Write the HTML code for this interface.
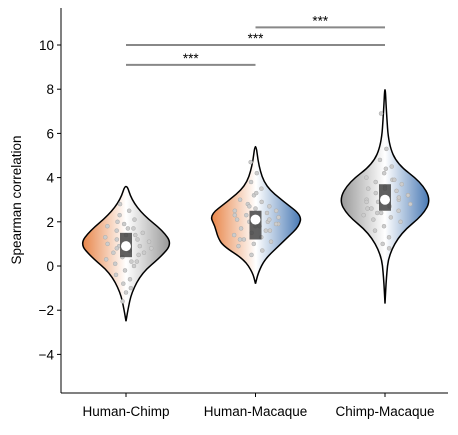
<!DOCTYPE html>
<html><head><meta charset="utf-8"><style>
body{margin:0;background:#fff}
text{font-family:"Liberation Sans",sans-serif;font-size:13.5px;fill:#000}
</style></head><body>
<svg id="c" width="458" height="430">
<defs>
<linearGradient id="g0" x1="0" x2="1"><stop offset="0" stop-color="#e8864a"/><stop offset="0.5" stop-color="#fff"/><stop offset="1" stop-color="#999"/></linearGradient>
<linearGradient id="g1" x1="0" x2="1"><stop offset="0" stop-color="#e8864a"/><stop offset="0.5" stop-color="#fff"/><stop offset="1" stop-color="#4a7ab5"/></linearGradient>
<linearGradient id="g2" x1="0" x2="1"><stop offset="0" stop-color="#999"/><stop offset="0.5" stop-color="#fff"/><stop offset="1" stop-color="#4a7ab5"/></linearGradient>
</defs>
<g id="plot"></g>
</svg>
<script>
const categories=["Human-Chimp","Human-Macaque","Chimp-Macaque"];
const yTicks=[-4,-2,0,2,4,6,8,10];
const violinHC=[[-2.5,0,0],[-2.0,0.04,0.04],[-1.2,0.12,0.12],[-0.3,0.35,0.35],[0.4,0.75,0.75],[1.0,1.0,1.0],[1.6,0.78,0.8],[2.3,0.38,0.38],[3.0,0.12,0.12],[3.8,0,0]];
const violinHM=[[-0.8,0,0],[-0.3,0.06,0.06],[0.3,0.25,0.2],[0.9,0.7,0.5],[1.3,0.82,0.7],[1.8,0.88,0.95],[2.3,1.0,1.0],[2.9,0.62,0.62],[3.6,0.22,0.22],[4.5,0.07,0.07],[5.7,0,0]];
const violinCM=[[-1.7,0,0],[-0.5,0.03,0.03],[0.5,0.08,0.08],[1.5,0.35,0.35],[2.3,0.82,0.82],[3.0,1.0,1.0],[3.8,0.78,0.78],[4.6,0.27,0.27],[5.5,0.08,0.08],[7.0,0.03,0.03],[8.3,0,0]];
const violins=[violinHC,violinHM,violinCM];
const boxes=[[0.4,0.9,1.5],[1.2,2.1,2.5],[2.5,3.0,3.7]];
const ptsHC=[2.8,2.5,2.3,2.1,1.9,1.8,1.7,1.6,1.5,1.4,1.3,1.2,1.2,1.1,1.0,1.0,0.9,0.9,0.8,0.7,0.6,0.5,0.4,0.3,0.2,0.1,0,-0.2,-0.4,-0.6,-0.8,-1.0,-1.2,-1.6,1.4,0.8,0.6,1.7,2.0,0.2];
const ptsHM=[4.7,4.2,3.8,3.5,3.2,3.0,2.9,2.8,2.7,2.6,2.5,2.4,2.3,2.2,2.2,2.1,2.0,2.0,1.9,1.8,1.7,1.6,1.5,1.4,1.3,1.2,1.1,1.0,0.9,0.7,0.5,2.5,1.8,2.3,1.6,2.7,1.9,3.3,1.2,2.1];
const ptsCM=[6.9,5.3,4.8,4.5,4.2,4.0,3.9,3.8,3.7,3.6,3.5,3.4,3.3,3.2,3.1,3.0,3.0,2.9,2.8,2.7,2.6,2.5,2.4,2.3,2.2,2.1,2.0,1.8,1.6,1.3,1.0,0.8,3.5,2.6,3.9,2.4,3.2,4.4,2.9,3.1];
const points=[ptsHC,ptsHM,ptsCM];
const sigBars=[[0,1,9.1],[0,2,10],[1,2,10.8]];
const sigLabels=["***","***","***"];

const X0=61,X1=448,YT=8,YB=393;
const y=v=>266-v*22.1;
const xc=i=>126+i*129.5;
const HW=46;
const g=document.getElementById('plot');
const NS='http://www.w3.org/2000/svg';
function el(t,a){const e=document.createElementNS(NS,t);for(const k in a)e.setAttribute(k,a[k]);g.appendChild(e);return e;}
let e;
e=el('line',{x1:X0,y1:YT,x2:X0,y2:YB,stroke:'#000','stroke-width':1});


e=el('line',{x1:X0,y1:YB,x2:X1,y2:YB,stroke:'#000','stroke-width':1});


yTicks.forEach(v=>{
 e=el('line',{x1:X0-4,y1:y(v),x2:X0,y2:y(v),stroke:'#000'});
 
 
 e=el('text',{x:X0-7,y:y(v)+5,'text-anchor':'end'});e.textContent=(v<0?'\u2212'+(-v):v);
 
 
});
e=el('text',{x:0,y:0,transform:'translate(21,200) rotate(-90)','text-anchor':'middle'});e.textContent='Spearman correlation';


categories.forEach((c,i)=>{
 e=el('line',{x1:xc(i),y1:YB,x2:xc(i),y2:YB+4,stroke:'#000'});
 
 
 e=el('text',{x:xc(i),y:YB+23,'text-anchor':'middle'});e.textContent=c;
 
 
});
function smooth(pts){let d='M'+pts[0][0]+','+pts[0][1];for(let k=1;k<pts.length;k++){const p0=pts[k-1],p1=pts[k];const my=(p0[1]+p1[1])/2;d+=' Q'+p0[0]+','+p0[1]+' '+(p0[0]+p1[0])/2+','+my;}d+=' L'+pts[pts.length-1][0]+','+pts[pts.length-1][1];return d;}
violins.forEach((prof,i)=>{
 const cx=xc(i);
 const right=prof.map(p=>[cx+p[2]*HW,y(p[0])]);
 const left=prof.slice().reverse().map(p=>[cx-p[1]*HW,y(p[0])]);
 const pts=right.concat(left.slice(1));
 e=el('path',{d:smooth(pts)+'Z',fill:'url(#g'+i+')',stroke:'#000','stroke-width':1.5});
 
 
 points[i].forEach((v,k)=>{
  const off=((k*37)%23-11)/11*HW*0.55*(prof.reduce((m,p)=>Math.abs(p[0]-v)<Math.abs(m[0]-v)?p:m)[1]+0.15)/1.15;
  e=el('circle',{cx:cx+off,cy:y(v),r:2,fill:'#ccc',stroke:'#aaa','stroke-width':0.5});
  
  
 });
 const b=boxes[i];
 e=el('rect',{x:cx-6,y:y(b[2]),width:12,height:y(b[0])-y(b[2]),fill:'#444',opacity:0.85});
 
 
 e=el('circle',{cx:cx,cy:y(b[1]),r:5,fill:'#fff'});
 
 
});
sigBars.forEach((s,k)=>{
 e=el('line',{x1:xc(s[0]),y1:y(s[2]),x2:xc(s[1]),y2:y(s[2]),stroke:'#888','stroke-width':2});
 
 
 e=el('text',{x:(xc(s[0])+xc(s[1]))/2,y:y(s[2])-2,'text-anchor':'middle','font-size':'12px'});e.textContent=sigLabels[k];
 
 
});
</script>
</body></html>
